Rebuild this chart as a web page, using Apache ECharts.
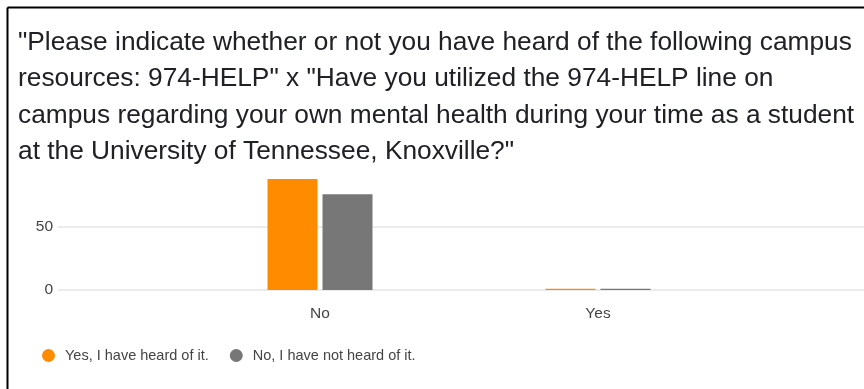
<!DOCTYPE html>
<html>
<head>
<meta charset="utf-8">
<style>
  html, body { margin: 0; padding: 0; background: #ffffff; }
  #chart { width: 864px; height: 389px; }
</style>
<script src="https://cdn.jsdelivr.net/npm/echarts@6/dist/echarts.min.js"></script>
</head>
<body>
<div id="chart"></div>
<script>
// Survey cross-tab: awareness of 974-HELP vs. use of the line
const titleLines = [
  '"Please indicate whether or not you have heard of the following campus',
  'resources: 974-HELP" x "Have you utilized the 974-HELP line on',
  'campus regarding your own mental health during your time as a student',
  'at the University of Tennessee, Knoxville?"'
];
const categories = ['No', 'Yes'];
const seriesNames = ['Yes, I have heard of it.', 'No, I have not heard of it.'];
const heardValues = [88, 1];
const notHeardValues = [76, 1];
const yTicks = [0, 50, 100];

const FONT = '"Liberation Sans", Arial, sans-serif';
const chart = echarts.init(document.getElementById('chart'), null, { renderer: 'canvas' });

chart.setOption({
  animation: false,
  backgroundColor: '#ffffff',
  color: ['#ff8c00', '#777777'],
  textStyle: { fontFamily: FONT },
  title: {
    text: titleLines.join('\n'),
    left: 13,
    top: 19,
    textStyle: {
      fontFamily: FONT,
      fontSize: 26.3,
      fontWeight: 'normal',
      color: '#202124',
      lineHeight: 36.5
    }
  },
  legend: {
    left: 37,
    top: 343,
    itemWidth: 13,
    itemHeight: 13,
    itemGap: 21,
    icon: 'circle',
    data: seriesNames,
    textStyle: { fontFamily: FONT, fontSize: 14.5, color: '#444444', padding: [0, 0, 0, 5] }
  },
  grid: [
    // full-width grid carrying the gridlines and value labels
    { left: 58, right: 0, top: 164, bottom: 99, containLabel: false },
    // grid holding the bars
    { left: 181, right: 127, top: 164, bottom: 99, containLabel: false }
  ],
  xAxis: [
    { gridIndex: 0, type: 'category', data: [''], show: false },
    {
      gridIndex: 1,
      type: 'category',
      data: categories,
      axisLine: { show: false },
      axisTick: { show: false },
      axisLabel: { fontFamily: FONT, fontSize: 15.5, color: '#444444', margin: 16 }
    }
  ],
  yAxis: [
    {
      gridIndex: 0,
      type: 'value',
      min: yTicks[0],
      max: yTicks[yTicks.length - 1],
      interval: yTicks[1] - yTicks[0],
      axisLine: { show: false },
      axisTick: { show: false },
      axisLabel: {
        fontFamily: FONT,
        fontSize: 15.5,
        color: '#444444',
        margin: 5,
        formatter: v => (v === yTicks[yTicks.length - 1] ? '' : String(v))
      },
      splitLine: { lineStyle: { color: ['#ebebeb', '#ebebeb', 'rgba(0,0,0,0)'], width: 2 } }
    },
    {
      gridIndex: 1,
      type: 'value',
      min: yTicks[0],
      max: yTicks[yTicks.length - 1],
      interval: yTicks[1] - yTicks[0],
      show: false,
      splitLine: { show: false }
    }
  ],
  series: [
    {
      name: seriesNames[0],
      type: 'bar',
      xAxisIndex: 1,
      yAxisIndex: 1,
      data: heardValues,
      barWidth: 50,
      barGap: '10%'
    },
    {
      name: seriesNames[1],
      type: 'bar',
      xAxisIndex: 1,
      yAxisIndex: 1,
      data: notHeardValues,
      barWidth: 50,
      barGap: '10%'
    }
  ],
  graphic: [
    // frame along the top and left edges
    { type: 'line', shape: { x1: 7.5, y1: 7.5, x2: 864, y2: 7.5 }, style: { stroke: '#000000', lineWidth: 2 }, silent: true },
    { type: 'line', shape: { x1: 7.5, y1: 7.5, x2: 7.5, y2: 389 }, style: { stroke: '#000000', lineWidth: 2 }, silent: true }
  ]
});
</script>
</body>
</html>
